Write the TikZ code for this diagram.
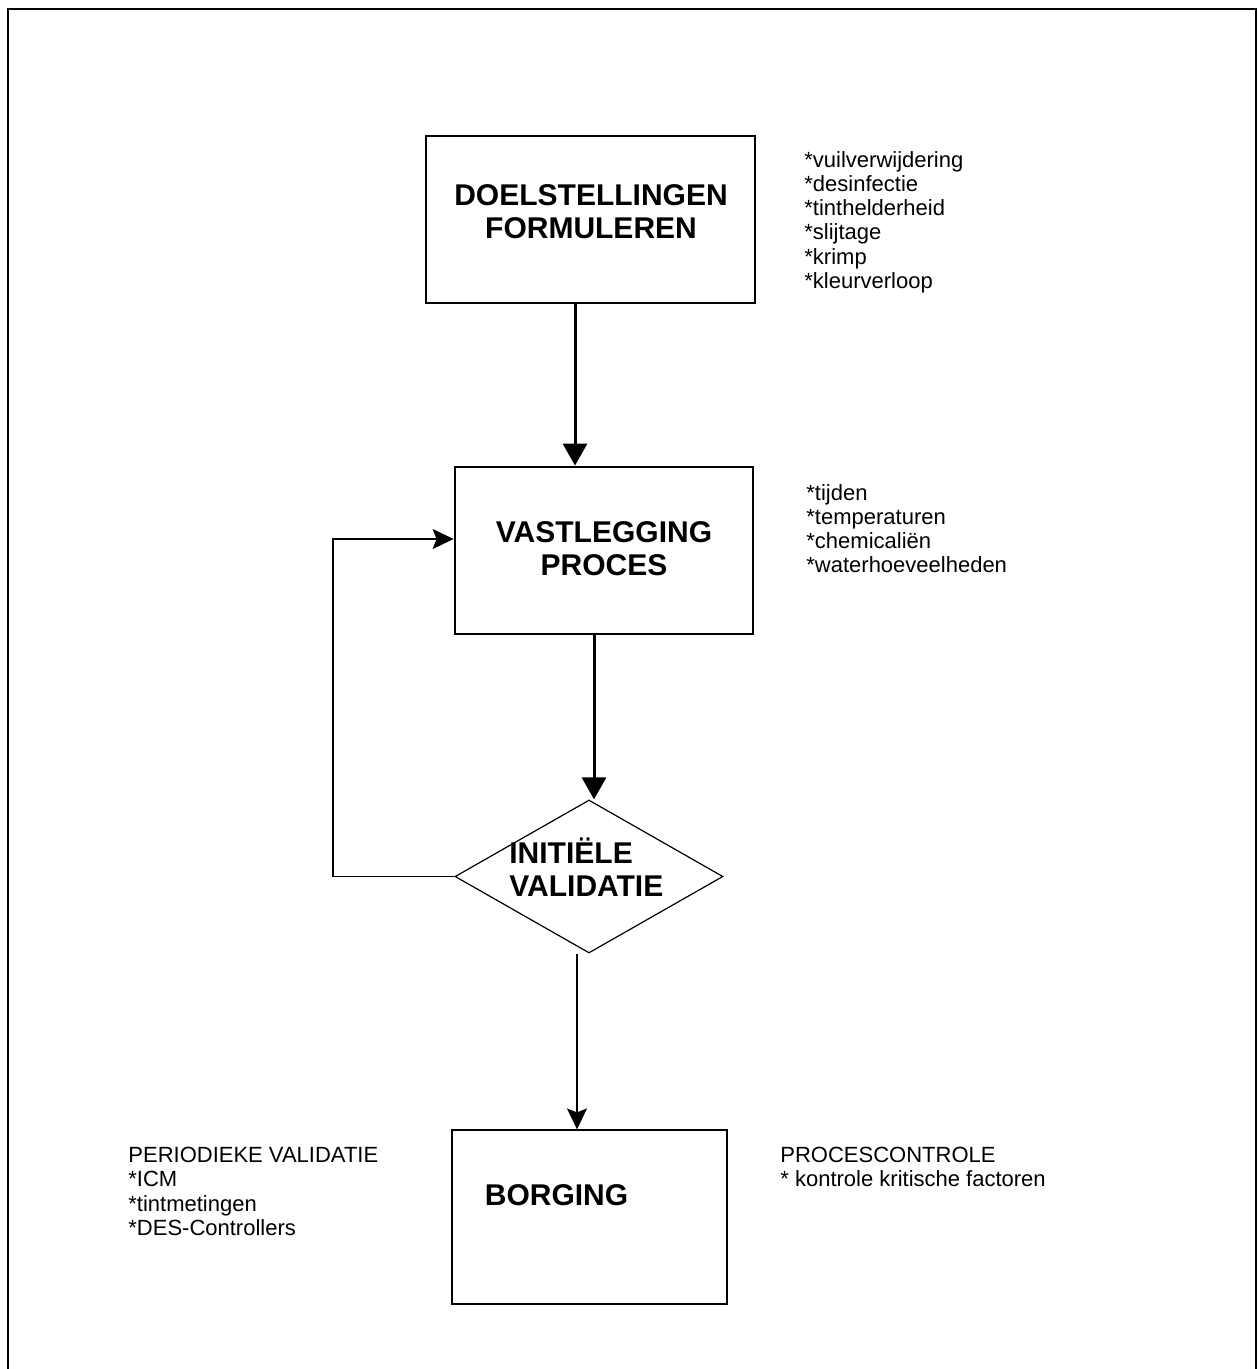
\documentclass[tikz,border=0pt]{standalone}
\usepackage{fontspec}
\setmainfont{Liberation Sans}
\usetikzlibrary{shapes.geometric,arrows.meta}
\tikzset{
  stapbox/.style={draw,line width=1.4pt,inner sep=0pt},
  titel/.style={font=\bfseries\fontsize{15}{16.5}\selectfont,align=center,inner sep=0pt},
  lijst/.style={font=\fontsize{11}{12.1}\selectfont,align=left,inner sep=0pt,anchor=north west},
  dikpijl/.style={line width=1.5pt,-{Triangle[width=12pt,length=11pt]}},
  dunpijl/.style={line width=0.6pt,-{Stealth[width=10pt,length=10.5pt,inset=2pt]}}
}
\begin{document}
\begin{tikzpicture}[x=0.5pt,y=-0.5pt]
\useasboundingbox(0,0)rectangle(1258,1369);
%frame
\draw[line width=1.4pt](8,1369)--(8,9)--(1256,9)--(1256,1369);
%steps
\node[stapbox,minimum width=164.5pt,minimum height=83.5pt](doel)at(590.5,219.5){};
\node[stapbox,minimum width=149pt,minimum height=83.5pt](vast)at(604,550.5){};
\node[draw,diamond,line width=0.6pt,inner sep=0pt,minimum width=134pt,minimum height=76.5pt](valid)at(589,876.5){};
\node[draw,line width=0.6pt,inner sep=0pt,minimum width=137.5pt,minimum height=87pt](borg)at(589.5,1217){};
%step texts
\node[titel](doeltxt)at(591,211.5){DOELSTELLINGEN\\FORMULEREN};
\node[titel](vasttxt)at(604,548.3){VASTLEGGING\\PROCES};
\node[titel,align=left,anchor=south west](validtxt)at(509,897){INITIËLE\\VALIDATIE};
\node[titel](borgtxt)at(556.5,1195){BORGING};
%lists
\node[lijst](doellijst)at(804,151){*vuilverwijdering\\*desinfectie\\*tinthelderheid\\*slijtage\\*krimp\\*kleurverloop};
\node[lijst](vastlijst)at(806,484){*tijden\\*temperaturen\\*chemicaliën\\*waterhoeveelheden};
\node[lijst](periodiek)at(128,1147){PERIODIEKE VALIDATIE\\*ICM\\*tintmetingen\\*DES-Controllers};
\node[lijst](controle)at(780,1147){PROCESCONTROLE\\* kontrole kritische factoren};
%connectors
\path(575,0)coordinate(k1)(594,0)coordinate(k2)(577,0)coordinate(k3)(333,539)coordinate(terug);
\draw[dikpijl](doel.south-|k1)--(vast.north-|k1);
\draw[dikpijl](vast.south-|k2)--(valid.north-|k2);
\draw[dunpijl](valid.south-|k3)--(borg.north-|k3);
\draw[dunpijl](valid.west)-|(terug)--(vast.west|-terug);
\end{tikzpicture}
\end{document}
